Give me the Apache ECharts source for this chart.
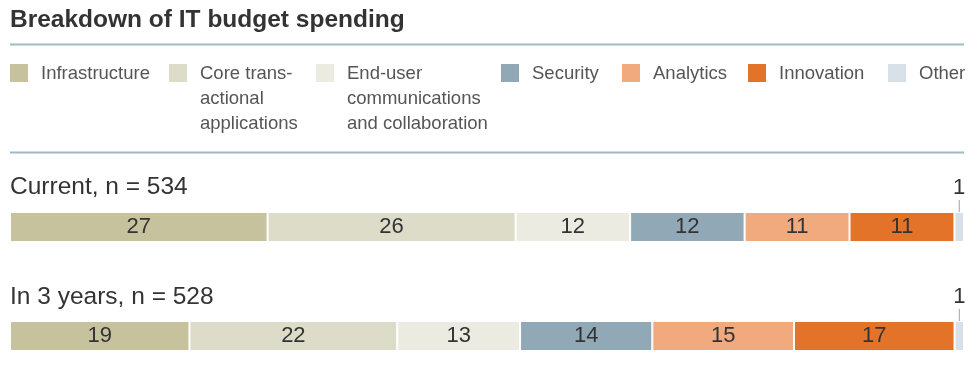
<!DOCTYPE html>
<html>
<head>
<meta charset="utf-8">
<script src="https://cdn.jsdelivr.net/npm/echarts@6/dist/echarts.min.js"></script>
<style>html,body{margin:0;padding:0;background:#fff;}#c{width:977px;height:371px;}</style>
</head>
<body>
<div id="c"></div>
<script>
const categories = ['Infrastructure', 'Core transactional applications', 'End-user communications and collaboration', 'Security', 'Analytics', 'Innovation', 'Other'];
const legendLabels = ['Infrastructure', 'Core trans-\nactional\napplications', 'End-user\ncommunications\nand collaboration', 'Security', 'Analytics', 'Innovation', 'Other'];
const rowLabels = ['Current, n = 534', 'In 3 years, n = 528'];
const currentValues = [27, 26, 12, 12, 11, 11, 1];
const futureValues = [19, 22, 13, 14, 15, 17, 1];

const rowsData = [currentValues, futureValues];
const colors = ['#c6c29d', '#dcdcc9', '#ebebe1', '#91a9b7', '#f0aa7e', '#e4732a', '#d8e1e7'];
const FONT = '"Liberation Sans", Arial, Helvetica, sans-serif';
const legendX = [10, 169, 316, 501, 622, 748, 888];
const gridTops = [212, 321];
const rowLabelY = [187, 297];

const grids = [], xAxes = [], yAxes = [], series = [];
rowsData.forEach((vals, r) => {
  const total = vals.reduce((a, b) => a + b, 0);
  grids.push({ left: 10, right: 13, top: gridTops[r], height: 30, containLabel: false });
  xAxes.push({ type: 'value', gridIndex: r, min: 0, max: total, show: false });
  yAxes.push({ type: 'category', gridIndex: r, data: [rowLabels[r]], show: false });
  vals.forEach((v, c) => {
    const isOther = c === vals.length - 1;
    series.push({
      type: 'bar', name: categories[c], xAxisIndex: r, yAxisIndex: r, stack: 'row' + r,
      data: [v], barWidth: '100%',
      itemStyle: { color: colors[c], borderColor: '#fff', borderWidth: 1 },
      label: isOther ? {
        show: true, position: 'top', distance: 0,
        formatter: '{n|{c}}\n{t|}',
        rich: {
          n: { fontSize: 22, color: '#333', fontFamily: FONT, lineHeight: 24, align: 'center' },
          t: { width: 1, height: 12, backgroundColor: '#8fa6b6', align: 'center' }
        }
      } : {
        show: true, position: 'inside', formatter: '{c}',
        fontSize: 22, color: '#333', fontFamily: FONT
      },
      emphasis: { disabled: true }
    });
  });
});

const graphics = [
  { type: 'line', shape: { x1: 10, y1: 44.5, x2: 964, y2: 44.5 }, style: { stroke: '#a3b8c6', lineWidth: 2 } },
  { type: 'line', shape: { x1: 10, y1: 152.5, x2: 964, y2: 152.5 }, style: { stroke: '#a3b8c6', lineWidth: 2 } }
];
legendLabels.forEach((lab, i) => {
  graphics.push({ type: 'rect', shape: { x: legendX[i], y: 64, width: 18, height: 18 }, style: { fill: colors[i] } });
  graphics.push({ type: 'text', x: legendX[i] + 31, y: 61, style: { text: lab, font: '18.5px ' + FONT, fill: '#555', lineHeight: 25, verticalAlign: 'top' } });
});
rowLabels.forEach((lab, r) => {
  graphics.push({ type: 'text', x: 10, y: rowLabelY[r], style: { text: lab, font: '24.5px ' + FONT, fill: '#333', verticalAlign: 'middle' } });
});

const chart = echarts.init(document.getElementById('c'), null, { renderer: 'canvas' });
chart.setOption({
  animation: false,
  backgroundColor: '#fff',
  title: { text: 'Breakdown of IT budget spending', left: 5, top: 3, textStyle: { fontSize: 24.5, fontWeight: 'bold', color: '#333', fontFamily: FONT } },
  grid: grids, xAxis: xAxes, yAxis: yAxes, series: series,
  graphic: graphics
});
</script>
</body>
</html>
